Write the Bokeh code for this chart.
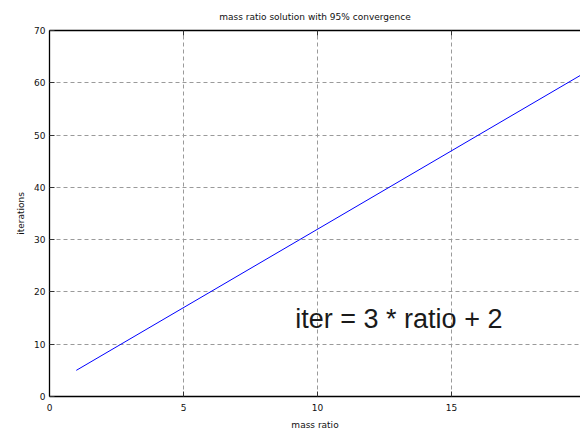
from bokeh.plotting import figure
from bokeh.models import LinearAxis, Range1d, Label, FixedTicker, CustomJSTickFormatter
from bokeh.embed import file_html
from bokeh.resources import INLINE

# data
ratio = [1, 20]
iterations = [5, 62]
x_ticks = [0, 5, 10, 15, 20]
y_ticks = [0, 10, 20, 30, 40, 50, 60, 70]
title_text = "mass ratio solution with 95% convergence"
x_label = "mass ratio"
y_label = "iterations"
note_text = "iter = 3 * ratio + 2"
note_x = [9.17]
note_y = [14.9]

FONT = "DejaVu Sans"

p = figure(width=580, height=433, output_backend="svg", toolbar_location=None,
           x_range=Range1d(0, 19.81), y_range=Range1d(0, 70),
           min_border_left=49, min_border_right=0, min_border_top=30, min_border_bottom=37,
           title=title_text)
p.outline_line_color = None
p.background_fill_color = "white"
p.border_fill_color = "white"

p.title.align = "center"
p.title.text_font = FONT
p.title.text_font_size = "9px"
p.title.text_font_style = "normal"
p.title.text_color = "#111111"
p.title.text_line_height = 0.6
p.title.standoff = 18

p.line(ratio, iterations, line_color="#0000ff", line_width=1)

for ax in (p.xaxis[0], p.yaxis[0]):
    ax.axis_line_color = "black"
    ax.axis_line_width = 1.3
    ax.major_tick_in = 5
    ax.major_tick_out = 0
    ax.major_tick_line_color = "#333333"
    ax.minor_tick_line_color = None
    ax.major_label_text_font = FONT
    ax.major_label_text_font_size = "9px"
    ax.major_label_text_color = "#111111"
    ax.axis_label_text_font = FONT
    ax.axis_label_text_font_size = "9px"
    ax.axis_label_text_font_style = "normal"
    ax.axis_label_text_color = "#111111"

p.xaxis[0].ticker = FixedTicker(ticks=x_ticks)
p.yaxis[0].ticker = FixedTicker(ticks=y_ticks)
p.xaxis[0].axis_label = x_label
p.yaxis[0].axis_label = y_label
p.xaxis[0].major_label_standoff = 7
p.yaxis[0].major_label_standoff = 4
p.xaxis[0].axis_label_standoff = 6
p.yaxis[0].axis_label_standoff = 5

top = LinearAxis(ticker=FixedTicker(ticks=x_ticks),
                 formatter=CustomJSTickFormatter(code="return ''"))
top.axis_line_color = "black"
top.axis_line_width = 1.3
top.major_tick_in = 5
top.major_tick_out = 0
top.major_tick_line_color = "#333333"
top.minor_tick_line_color = None
top.major_label_standoff = 0
top.major_label_text_font_size = "1px"
p.add_layout(top, "above")

p.grid.grid_line_color = "#9a9a9a"
p.grid.grid_line_dash = "4 3"
p.grid.grid_line_width = 1
p.xgrid.ticker = FixedTicker(ticks=x_ticks)
p.ygrid.ticker = FixedTicker(ticks=y_ticks)

p.add_layout(Label(x=note_x[0], y=note_y[0], text=note_text, text_font="Liberation Sans",
                   text_font_size="27px", text_color="#1a1a1a", text_baseline="alphabetic",
                   text_align="left"))

open("out.html", "w").write(file_html(p, INLINE))
